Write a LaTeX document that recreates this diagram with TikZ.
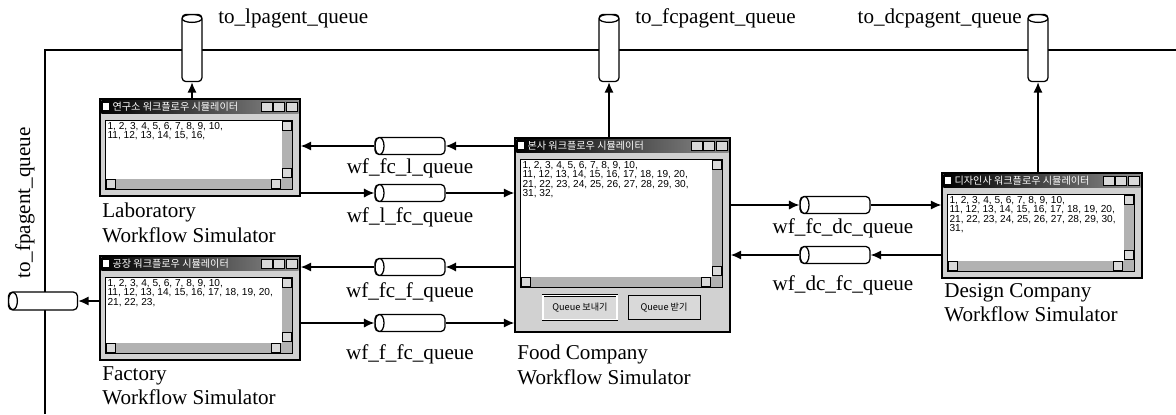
\documentclass[tikz,border=0pt]{standalone}
\usepackage{fontspec}
\setmainfont{Liberation Serif}
\newfontfamily\krfont{Noto Sans CJK KR}
\newfontfamily\winfont{Liberation Sans}
\usetikzlibrary{arrows.meta,positioning,calc}

% one simulator window drawn over node #1: title, bottom inset, numbers
\newcommand{\simwin}[4]{%
  \shade[left color=black,right color=black!45] ($(#1.north west)+(2,2)$) rectangle ($(#1.north east)+(-2,15)$);
  \fill[white] ($(#1.north west)+(4,5)$) rectangle ++(6,7);
  \node[wintitle] at ($(#1.north west)+(13,8.5)$) {#2};
  \foreach \dx in {-39,-27,-14}
    \draw[tbtn] ($(#1.north east)+(\dx,4)$) rectangle ++(11,9);
  \coordinate (#1-tl) at ($(#1.north west)+(6,22)$);
  \coordinate (#1-br) at ($(#1.south east)+(-8,-#3)$);
  \fill[white] (#1-tl) rectangle (#1-br);
  \fill[black!30] (#1-tl -| #1-br) ++(-11,0) rectangle (#1-br);
  \fill[black!30] (#1-tl |- #1-br) ++(0,-11) rectangle (#1-br);
  \draw[line width=0.6pt] (#1-tl) rectangle (#1-br);
  \draw[sbox] (#1-tl -| #1-br) ++(-10,1) rectangle ++(9,9);
  \draw[sbox] (#1-br) ++(-10,-21) rectangle ++(9,9);
  \draw[sbox] (#1-tl |- #1-br) ++(1,-10) rectangle ++(9,9);
  \draw[sbox] (#1-br) ++(-21,-10) rectangle ++(9,9);
  \node[wintext] at ($(#1-tl)+(2,2)$) {#4};
}

\begin{document}
\begin{tikzpicture}[x=0.025cm,y=-0.025cm,
  win/.style={draw,line width=1pt,fill=black!18,inner sep=0},
  qh/.style={draw,fill=white,line width=0.9pt,rounded corners=0.11cm,minimum width=1.75cm,minimum height=0.43cm,inner sep=0,
    path picture={\draw[line width=0.9pt] ($(path picture bounding box.west)+(4.5,0)$) ellipse [x radius=4.5,y radius=8.6];}},
  qv/.style={draw,fill=white,line width=0.9pt,rounded corners=0.1cm,minimum width=0.5cm,minimum height=1.68cm,inner sep=0,
    path picture={\draw[line width=0.9pt] ($(path picture bounding box.north)+(0,4)$) ellipse [x radius=10,y radius=4];}},
  arrow/.style={-{Latex[length=2.6mm,width=2.3mm]},line width=1pt},
  lbl/.style={font=\fontsize{15}{17.5}\selectfont,inner sep=0,align=left},
  qlbl/.style={font=\fontsize{15}{17.5}\selectfont,inner sep=0},
  wintitle/.style={anchor=west,text=white,inner sep=0,font=\krfont\fontsize{7.2}{8}\selectfont},
  wintext/.style={anchor=north west,align=left,inner sep=0,font=\winfont\fontsize{7.2}{6.6}\selectfont},
  tbtn/.style={draw,line width=0.5pt,fill=black!15},
  sbox/.style={draw,line width=0.5pt,fill=black!15},
  wbtn/.style={draw,line width=0.6pt,fill=black!15,inner sep=0,minimum height=0.62cm,font=\krfont\fontsize{6.5}{7}\selectfont}
]
\useasboundingbox (0,0) rectangle (1176,414);

% agent line
\coordinate (fbot) at (45,414);
\coordinate (fcorner) at (45,50);
\coordinate (fright) at (1176,50);
\draw[line width=1pt] (fbot) -- (fcorner) -- (fright);

% simulator windows
\node[win,minimum width=5cm,minimum height=2.425cm] (lab) at (200,147.5) {};
\simwin{lab}{연구소 워크플로우 시뮬레이터}{7}{1, 2, 3, 4, 5, 6, 7, 8, 9, 10,\\11, 12, 13, 14, 15, 16,}
\node[win,minimum width=5cm,minimum height=2.6cm] (fac) at (200,308) {};
\simwin{fac}{공장 워크플로우 시뮬레이터}{7}{1, 2, 3, 4, 5, 6, 7, 8, 9, 10,\\11, 12, 13, 14, 15, 16, 17, 18, 19, 20,\\21, 22, 23,}
\node[win,minimum width=5.375cm,minimum height=4.85cm] (food) at (622.5,235) {};
\simwin{food}{본사 워크플로우 시뮬레이터}{45}{1, 2, 3, 4, 5, 6, 7, 8, 9, 10,\\11, 12, 13, 14, 15, 16, 17, 18, 19, 20,\\21, 22, 23, 24, 25, 26, 27, 28, 29, 30,\\31, 32,}
\node[wbtn,double,double distance=0.8pt,minimum width=1.85cm] (send) at (580,307.5) {Queue 보내기};
\node[wbtn,minimum width=1.8cm] (recv) at (664,307.5) {Queue 받기};
\node[win,minimum width=5cm,minimum height=2.625cm] (des) at (1042,225.5) {};
\simwin{des}{디자인사 워크플로우 시뮬레이터}{7}{1, 2, 3, 4, 5, 6, 7, 8, 9, 10,\\11, 12, 13, 14, 15, 16, 17, 18, 19, 20,\\21, 22, 23, 24, 25, 26, 27, 28, 29, 30,\\31,}

\node[lbl,anchor=north west] (labname) at (102,203) {Laboratory\\Workflow Simulator};
\node[lbl,anchor=north west] (facname) at (102,366) {Factory\\Workflow Simulator};
\node[lbl,anchor=north west] (foodname) at (517,345) {Food Company\\Workflow Simulator};
\node[lbl,anchor=north west] (desname) at (944,283) {Design Company\\Workflow Simulator};

% agent queues
\node[qv] (tolp) at (192,48) {};
\node[qv] (tofc) at (609,48) {};
\node[qv] (todc) at (1038,48) {};
\node[qh,minimum width=1.73cm,minimum height=0.45cm] (tofp) at (43,301) {};
\node[qlbl,anchor=west] at (218,18) {to\_lpagent\_queue};
\node[qlbl,anchor=west] at (635,18) {to\_fcpagent\_queue};
\node[qlbl,anchor=east] at (1022,18) {to\_dcpagent\_queue};
\node[qlbl,rotate=90] at (25,203) {to\_fpagent\_queue};
\draw[arrow] (lab.north -| tolp) -- (tolp);
\draw[arrow] (food.north -| tofc) -- (tofc);
\draw[arrow] (des.north -| todc) -- (todc);
\draw[arrow] (fac.west |- tofp) -- (tofp);

% workflow queues
\node[qh] (qfcl) at (410,146) {};
\node[qh] (qlfc) at (410,193) {};
\node[qh] (qfcf) at (410,267) {};
\node[qh] (qffc) at (410,323) {};
\node[qh] (qfcdc) at (835,205) {};
\node[qh] (qdcfc) at (835,255) {};
\node[qlbl] at (410,168) {wf\_fc\_l\_queue};
\node[qlbl] at (410,217) {wf\_l\_fc\_queue};
\node[qlbl] at (410,292) {wf\_fc\_f\_queue};
\node[qlbl] at (410,354) {wf\_f\_fc\_queue};
\node[qlbl] at (843,228) {wf\_fc\_dc\_queue};
\node[qlbl] at (843,285) {wf\_dc\_fc\_queue};
\draw[arrow] (food.west |- qfcl) -- (qfcl);
\draw[arrow] (qfcl) -- (lab.east |- qfcl);
\draw[arrow] (lab.east |- qlfc) -- (qlfc);
\draw[arrow] (qlfc) -- (food.west |- qlfc);
\draw[arrow] (food.west |- qfcf) -- (qfcf);
\draw[arrow] (qfcf) -- (fac.east |- qfcf);
\draw[arrow] (fac.east |- qffc) -- (qffc);
\draw[arrow] (qffc) -- (food.west |- qffc);
\draw[arrow] (food.east |- qfcdc) -- (qfcdc);
\draw[arrow] (qfcdc) -- (des.west |- qfcdc);
\draw[arrow] (des.west |- qdcfc) -- (qdcfc);
\draw[arrow] (qdcfc) -- (food.east |- qdcfc);
\end{tikzpicture}
\end{document}
